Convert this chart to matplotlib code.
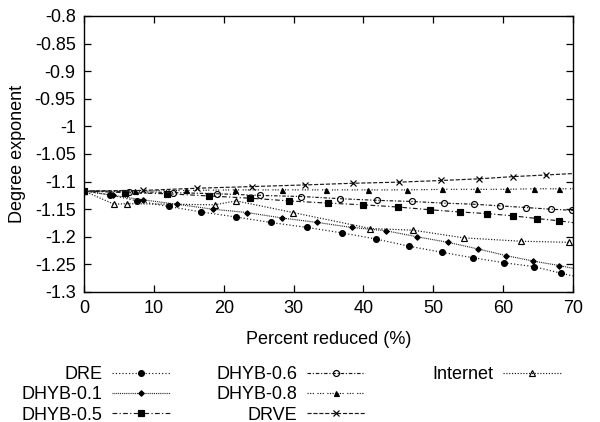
import matplotlib
matplotlib.use("Agg")
import matplotlib.pyplot as plt
from matplotlib.ticker import FixedLocator, FormatStrFormatter

plt.rcParams['font.family'] = ['Liberation Sans', 'DejaVu Sans']
plt.rcParams['axes.unicode_minus'] = False

# reduction (%) and degree exponent per method
dre_x = [0, 3.7, 7.6, 12.1, 16.8, 21.7, 26.7, 31.9, 37.0, 41.8, 46.5, 51.2, 55.7, 60.1, 64.4, 68.3, 71.8]
dre_y = [-1.117, -1.124, -1.135, -1.145, -1.155, -1.164, -1.174, -1.183, -1.193, -1.204,
         -1.217, -1.228, -1.238, -1.247, -1.254, -1.266, -1.276]

dhyb01_x = [0, 4.2, 8.4, 13.3, 18.4, 23.3, 28.4, 33.4, 38.3, 43.2, 47.7, 52.1, 56.4, 60.4, 64.3, 68.0, 71.5]
dhyb01_y = [-1.117, -1.125, -1.133, -1.141, -1.150, -1.156, -1.166, -1.174, -1.183, -1.189,
            -1.200, -1.210, -1.222, -1.234, -1.244, -1.252, -1.261]

dhyb05_x = [0, 5.9, 11.9, 17.9, 23.7, 29.4, 34.9, 39.9, 44.9, 49.5, 53.8, 57.7, 61.4, 64.9, 68.0, 71.0]
dhyb05_y = [-1.117, -1.120, -1.122, -1.126, -1.130, -1.135, -1.139, -1.142, -1.146, -1.151,
            -1.155, -1.158, -1.162, -1.167, -1.171, -1.176]

dhyb06_x = [0, 6.5, 12.8, 19.1, 25.2, 31.1, 36.7, 42.0, 46.9, 51.5, 55.8, 59.6, 63.3, 66.8, 69.9, 72.9]
dhyb06_y = [-1.117, -1.118, -1.120, -1.122, -1.125, -1.127, -1.131, -1.134, -1.136, -1.139,
            -1.141, -1.144, -1.147, -1.150, -1.152, -1.155]

dhyb08_x = [0, 7.3, 14.6, 21.6, 28.4, 34.7, 40.7, 46.2, 51.3, 56.2, 60.5, 64.4, 68.0, 71.2]
dhyb08_y = [-1.117, -1.117, -1.116, -1.115, -1.115, -1.115, -1.115, -1.115, -1.114, -1.114,
            -1.114, -1.113, -1.113, -1.113]

drve_x = [0, 8.4, 16.2, 24.1, 31.7, 38.5, 45.1, 51.1, 56.5, 61.4, 66.1, 70.6]
drve_y = [-1.117, -1.116, -1.112, -1.109, -1.106, -1.103, -1.101, -1.098, -1.095, -1.091, -1.088, -1.085]

inet_x = [0, 4.3, 6.1, 18.7, 21.8, 29.9, 41.0, 47.1, 54.4, 62.5, 69.4]
inet_y = [-1.117, -1.141, -1.140, -1.142, -1.135, -1.156, -1.185, -1.188, -1.202, -1.208, -1.210]

labels = ['DRE', 'DHYB-0.1', 'DHYB-0.5', 'DHYB-0.6', 'DHYB-0.8', 'DRVE', 'Internet']
x_ticks = [0, 10, 20, 30, 40, 50, 60, 70]
y_ticks = [-1.3, -1.25, -1.2, -1.15, -1.1, -1.05, -1.0, -0.95, -0.9, -0.85, -0.8]

FS = 13

series = [
    (dre_x, dre_y, dict(marker='o', ms=4.2, mfc='black', ls=(0, (1, 1.8)))),
    (dhyb01_x, dhyb01_y, dict(marker='D', ms=2.8, mfc='black', ls=(0, (0.8, 0.8)))),
    (dhyb05_x, dhyb05_y, dict(marker='s', ms=4.4, mfc='black', ls=(0, (4, 2, 1, 2)))),
    (dhyb06_x, dhyb06_y, dict(marker='o', ms=4.3, mfc='none', ls=(0, (3, 1.5, 1, 1.5)))),
    (dhyb08_x, dhyb08_y, dict(marker='^', ms=3.6, mfc='black', ls=(0, (1, 1.2, 1, 1.2, 1, 3)))),
    (drve_x, drve_y, dict(marker='x', ms=4.3, mfc='black', ls=(0, (3.5, 1.5)))),
    (inet_x, inet_y, dict(marker='^', ms=4.8, mfc='none', ls=(0, (1, 1.4)))),
]

fig = plt.figure(figsize=(6, 4.22), dpi=100)
ax = fig.add_axes([84 / 600, 1 - 292 / 422, (573 - 84) / 600, (292 - 16) / 422])

handles = []
for (xs, ys, st), lab in zip(series, labels):
    h, = ax.plot(xs, ys, color='#1a1a1a', lw=0.85, mec='black', mew=0.85, label=lab,
                 marker=st['marker'], ms=st['ms'], mfc=st['mfc'], ls=st['ls'])
    handles.append(h)

ax.set_xlim(0, 70)
ax.set_ylim(-1.3, -0.8)
ax.xaxis.set_major_locator(FixedLocator(x_ticks))
ax.yaxis.set_major_locator(FixedLocator(y_ticks))
ax.yaxis.set_major_formatter(FormatStrFormatter('%g'))
ax.tick_params(direction='in', length=5, width=0.9, labelsize=FS, pad=6,
               top=True, right=True)
for sp in ax.spines.values():
    sp.set_linewidth(1.0)

ax.set_xlabel('Percent reduced (%)', fontsize=FS, labelpad=10)
ax.set_ylabel('Degree exponent', fontsize=FS, labelpad=6)

# three legend columns, label placed left of the sample line
col_ends = [170, 365, 561]
groups = [handles[0:3], handles[3:6], handles[6:7]]
for xe, grp in zip(col_ends, groups):
    fig.legend(handles=grp, labels=[g.get_label() for g in grp],
               loc='upper right', bbox_to_anchor=(xe / 600, 1 - 366 / 422),
               markerfirst=False, frameon=False, fontsize=FS,
               handlelength=3.2, handletextpad=0.55, labelspacing=0.18,
               borderpad=0, borderaxespad=0, numpoints=1)

fig.savefig('out.png', dpi=100)
